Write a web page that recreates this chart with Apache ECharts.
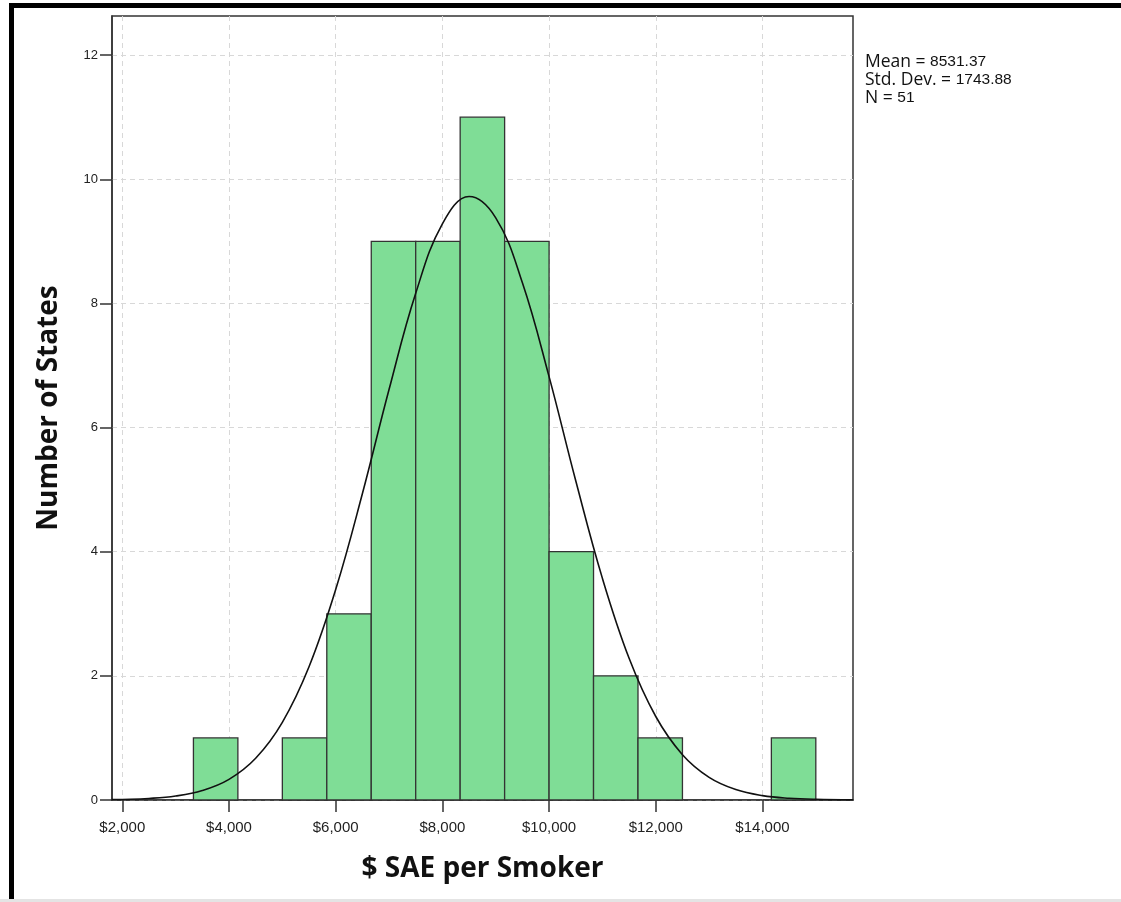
<!DOCTYPE html>
<html>
<head>
<meta charset="utf-8">
<script src="https://cdn.jsdelivr.net/npm/echarts@6/dist/echarts.min.js"></script>
<style>
  html, body { margin: 0; padding: 0; background: #fff; }
  #frame { position: absolute; left: 9px; top: 3px; width: 1112px; height: 899px;
           border-left: 5px solid #000; border-top: 5px solid #000; box-sizing: border-box; }
  #bottomline { position: absolute; left: 0; top: 899px; width: 1121px; height: 3px; background: #e4e4e4; }
  #chart { position: absolute; left: 0; top: 0; width: 1121px; height: 902px; }
</style>
</head>
<body>
<div id="frame"></div>
<div id="bottomline"></div>
<div id="chart"></div>
<script>
// ---- Data ----
const binEdges = [3333.33, 4166.67, 5000, 5833.33, 6666.67, 7500, 8333.33, 9166.67, 10000, 10833.33, 11666.67, 12500, 13333.33, 14166.67, 15000];
const counts   = [1, 0, 1, 3, 9, 9, 11, 9, 4, 2, 1, 0, 0, 1];

// Fitted normal curve points (x in $, y in states)
const curveX = [1800, 2000, 2500, 3000, 3500, 4000, 4500, 5000, 5500, 6000, 6500, 7000, 7500, 8000, 8500,
                9000, 9500, 10000, 10500, 11000, 11500, 12000, 12500, 13000, 13500, 14000, 14500, 15000, 15700];
const curveY = [0.006, 0.009, 0.025, 0.064, 0.152, 0.332, 0.672, 1.251, 2.146, 3.390, 4.933, 6.612, 8.162, 9.281, 9.721,
                9.378, 8.333, 6.820, 5.142, 3.570, 2.283, 1.345, 0.730, 0.365, 0.168, 0.071, 0.028, 0.010, 0.002];

const xTickValues = [2000, 4000, 6000, 8000, 10000, 12000, 14000];
const yTickValues = [0, 2, 4, 6, 8, 10, 12];

const statsLines = [
  ['Mean', '8531.37'],
  ['Std. Dev.', '1743.88'],
  ['N', '51']
];

const xTitle = '$ SAE per Smoker';
const yTitle = 'Number of States';

// ---- Build ----
const bins = counts.map((c, i) => [binEdges[i], binEdges[i + 1], c]).filter(d => d[2] > 0);
const curveData = curveX.map((x, i) => [x, curveY[i]]);

const chart = echarts.init(document.getElementById('chart'), null, { renderer: 'canvas' });

const tickFont = 'Liberation Sans, Arial, sans-serif';
const titleFont = 'Open Sans, DejaVu Sans, sans-serif';

const option = {
  animation: false,
  backgroundColor: 'transparent',
  grid: {
    left: 112, top: 16, right: 268, bottom: 102,
    show: true, backgroundColor: '#fff', borderColor: '#333', borderWidth: 1.5
  },
  xAxis: {
    type: 'value',
    min: 1807, max: 15697,
    name: xTitle,
    nameLocation: 'middle',
    nameGap: 55,
    nameTextStyle: { fontFamily: titleFont, fontWeight: 'bold', fontSize: 28, color: '#111' },
    axisLine: { show: true, lineStyle: { color: '#333', width: 1.5 } },
    axisTick: { show: true, length: 12, customValues: xTickValues, lineStyle: { color: '#333', width: 1.5 } },
    axisLabel: {
      customValues: xTickValues,
      margin: 20,
      fontFamily: tickFont, fontSize: 15, color: '#222',
      formatter: v => '$' + Number(v).toLocaleString('en-US')
    },
    splitLine: { show: true, lineStyle: { color: '#d8d8d8', type: [5, 4], width: 1 } }
  },
  yAxis: {
    type: 'value',
    min: 0, max: 12.63,
    name: yTitle,
    nameLocation: 'middle',
    nameGap: 49,
    nameRotate: 90,
    nameTextStyle: { fontFamily: titleFont, fontWeight: 'bold', fontSize: 28, color: '#111' },
    axisLine: { show: true, lineStyle: { color: '#333', width: 1.5 } },
    axisTick: { show: true, length: 12, customValues: yTickValues, lineStyle: { color: '#333', width: 1.5 } },
    axisLabel: {
      customValues: yTickValues,
      margin: 14,
      fontFamily: tickFont, fontSize: 13, color: '#222'
    },
    splitLine: { show: true, lineStyle: { color: '#d8d8d8', type: [5, 4], width: 1 } }
  },
  series: [
    {
      type: 'custom',
      data: bins,
      z: 2,
      renderItem: function (params, api) {
        const p0 = api.coord([api.value(0), 0]);
        const p1 = api.coord([api.value(1), api.value(2)]);
        return {
          type: 'rect',
          shape: { x: p0[0], y: p1[1], width: p1[0] - p0[0], height: p0[1] - p1[1] },
          style: { fill: '#7fdd96', stroke: '#333', lineWidth: 1.3 }
        };
      },
      encode: { x: [0, 1], y: 2 }
    },
    {
      type: 'line',
      data: curveData,
      smooth: 0.4,
      showSymbol: false,
      symbol: 'none',
      z: 3,
      lineStyle: { color: '#111', width: 1.6 }
    }
  ],
  graphic: [
    {
      type: 'text',
      left: 865, top: 53,
      style: {
        text: statsLines.map(l => '{a|' + l[0] + ' = }{b|' + l[1] + '}').join('\n'),
        rich: {
          a: { fontFamily: 'Open Sans, sans-serif', fontSize: 17.5, fill: '#111', lineHeight: 18 },
          b: { fontFamily: 'Liberation Sans, sans-serif', fontSize: 15.5, fill: '#111', lineHeight: 18 }
        }
      }
    }
  ]
};

chart.setOption(option);
</script>
</body>
</html>
